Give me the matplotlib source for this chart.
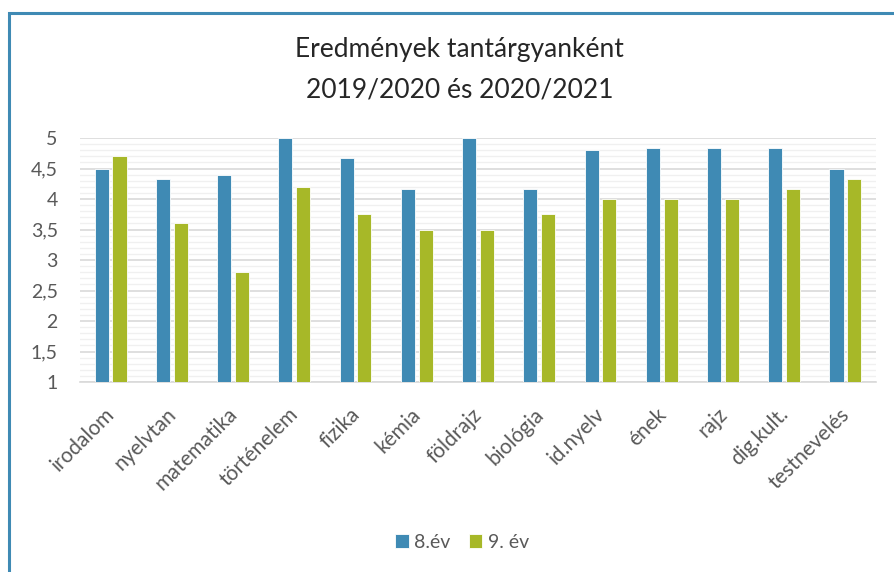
import numpy as np
import matplotlib
matplotlib.use('Agg')
import matplotlib.pyplot as plt
import matplotlib.transforms as mtransforms
from matplotlib.patches import Rectangle
from matplotlib.ticker import MultipleLocator, FuncFormatter

plt.rcParams['font.family'] = ['Lato', 'DejaVu Sans']

# data
subjects = ['irodalom', 'nyelvtan', 'matematika', 'történelem', 'fizika', 'kémia',
            'földrajz', 'biológia', 'id.nyelv', 'ének', 'rajz', 'dig.kult.', 'testnevelés']
ev8 = [4.5, 4.33, 4.4, 5.0, 4.67, 4.17, 5.0, 4.17, 4.8, 4.83, 4.83, 4.83, 4.5]
ev9 = [4.71, 3.6, 2.8, 4.2, 3.75, 3.5, 3.5, 3.75, 4.0, 4.0, 4.0, 4.17, 4.33]
series_names = ['8.év', '9. év']

blue = '#3F8AB4'
green = '#A7B828'
text_gray = '#595959'

fig = plt.figure(figsize=(8.94, 5.72), dpi=100)

# outer chart frame (right and bottom edges fall outside the picture)
frame = Rectangle((9 / 894, -0.05), 1.2, 1 - 13 / 572 + 0.05, transform=fig.transFigure,
                  fill=False, edgecolor='#3F8AB4', linewidth=2.2, clip_on=False)
fig.patches.append(frame)

ax = fig.add_axes([80 / 894, 1 - 382 / 572, (876 - 80) / 894, (382 - 138) / 572])

x = np.arange(len(subjects))
w = 0.23
off = 0.145
ax.bar(x - off, ev8, width=w, color=blue, edgecolor='white', linewidth=0.6,
       label=series_names[0], zorder=3)
ax.bar(x + off, ev9, width=w, color=green, edgecolor='white', linewidth=0.6,
       label=series_names[1], zorder=3)

ax.set_ylim(1, 5)
ax.set_xlim(-0.5, len(subjects) - 0.5)
ax.yaxis.set_major_locator(MultipleLocator(0.5))
ax.yaxis.set_minor_locator(MultipleLocator(0.1))
ax.yaxis.set_major_formatter(FuncFormatter(lambda v, p: f'{v:g}'.replace('.', ',')))
ax.grid(axis='y', which='major', color='#D9D9D9', linewidth=1.2, zorder=0)
ax.grid(axis='y', which='minor', color='#F0F0F0', linewidth=1.0, zorder=0)
ax.set_axisbelow(True)

for s in ['top', 'right', 'left']:
    ax.spines[s].set_visible(False)
ax.spines['bottom'].set_color('#D9D9D9')
ax.spines['bottom'].set_linewidth(1.2)

ax.tick_params(axis='y', which='both', length=0, labelsize=14, labelcolor=text_gray, pad=16)
ax.tick_params(axis='x', length=0, labelsize=15, labelcolor=text_gray, pad=16)
ax.set_xticks(x)
ax.set_xticklabels(subjects, rotation=45, ha='right', va='top', rotation_mode='anchor')
shift = mtransforms.ScaledTranslation(-6 / 100, 0, fig.dpi_scale_trans)
for lbl in ax.get_xticklabels():
    lbl.set_transform(lbl.get_transform() + shift)

fig.text(0.514, 1 - 50 / 572, 'Eredmények tantárgyanként', ha='center', va='center',
         fontsize=19, color='#262626')
fig.text(0.514, 1 - 90 / 572, '2019/2020 és 2020/2021', ha='center', va='center',
         fontsize=19, color='#262626')

fig.legend(loc='center', bbox_to_anchor=(0.517, 1 - 542 / 572), ncol=2, frameon=False,
           fontsize=14, labelcolor=text_gray, handlelength=0.67, handleheight=0.72,
           handletextpad=0.3, columnspacing=0.93)

fig.savefig('out.png', dpi=100)
